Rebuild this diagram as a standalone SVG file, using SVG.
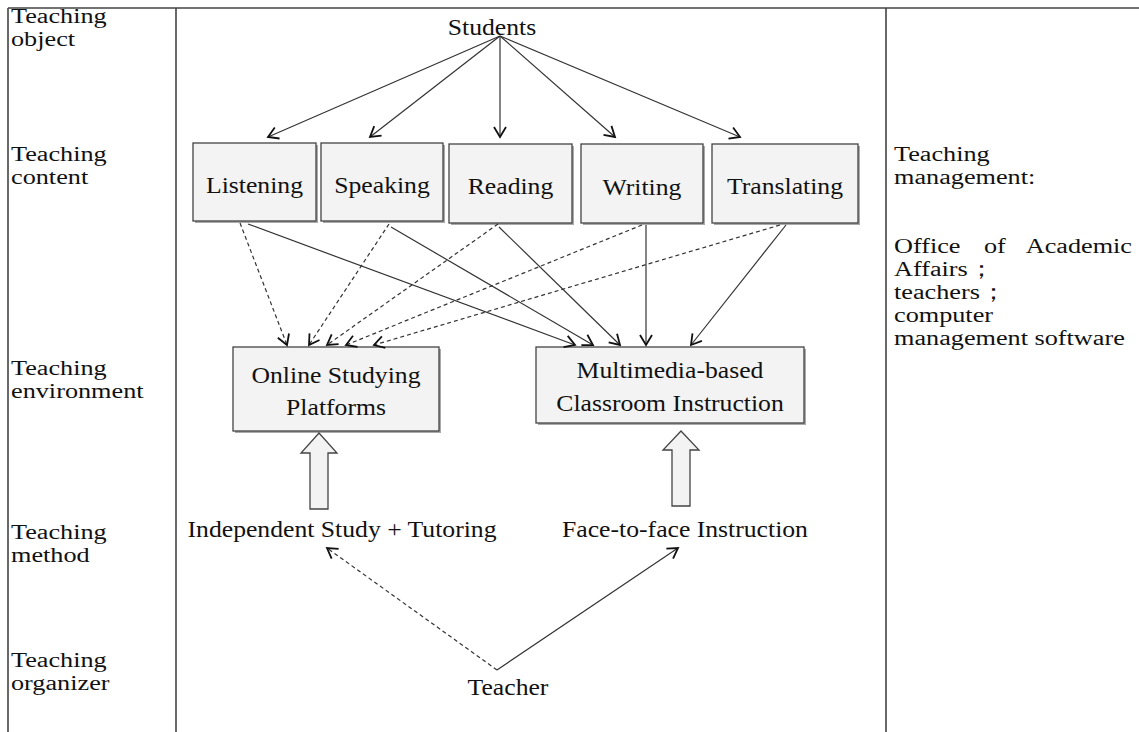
<svg xmlns="http://www.w3.org/2000/svg" width="1139" height="732" viewBox="0 0 1139 732">
<style>
.t{font-family:"Liberation Serif","Times New Roman",serif;font-size:20.5px;fill:#111}
.tm{font-family:"Liberation Serif","Times New Roman",serif;font-size:24px;fill:#111;text-anchor:middle}
.grid{stroke:#444;stroke-width:1.6;fill:none}
.box{fill:#f3f3f3;stroke:#444;stroke-width:1.3}
.sh{fill:#aaa}
.c{stroke:#333;stroke-width:1.2;fill:none;marker-end:url(#ah)}
.d{stroke:#333;stroke-width:1.2;fill:none;stroke-dasharray:4 3;marker-end:url(#ah)}
.blk{fill:#f3f3f3;stroke:#444;stroke-width:1.3}
</style>
<defs>
<marker id="ah" markerUnits="userSpaceOnUse" markerWidth="14" markerHeight="14" refX="11" refY="7" orient="auto">
<path d="M1,1 L11,7 L1,13" fill="none" stroke="#111" stroke-width="1.8"/>
</marker>
</defs>
<rect width="1139" height="732" fill="#fff"/>
<g id="table">
<path class="grid" d="M8,8 H1139 M8,8 V732 M176,8 V732 M886,8 V732"/>
</g>
<g id="left-labels">
<text class="t" transform="translate(11,23) scale(1.28,1)"><tspan x="0">Teaching</tspan><tspan x="0" dy="23">object</tspan></text>
<text class="t" transform="translate(11,161) scale(1.28,1)"><tspan x="0">Teaching</tspan><tspan x="0" dy="23">content</tspan></text>
<text class="t" transform="translate(11,375) scale(1.28,1)"><tspan x="0">Teaching</tspan><tspan x="0" dy="23">environment</tspan></text>
<text class="t" transform="translate(11,539) scale(1.28,1)"><tspan x="0">Teaching</tspan><tspan x="0" dy="23">method</tspan></text>
<text class="t" transform="translate(11,667) scale(1.28,1)"><tspan x="0">Teaching</tspan><tspan x="0" dy="23">organizer</tspan></text>
</g>
<g id="right-labels">
<text class="t" transform="translate(894,161) scale(1.28,1)"><tspan x="0">Teaching</tspan><tspan x="0" dy="23">management:</tspan></text>
<text class="t" transform="translate(894,253) scale(1.28,1)">Office</text>
<text class="t" transform="translate(984,253) scale(1.28,1)">of</text>
<text class="t" transform="translate(1132,253) scale(1.28,1)" text-anchor="end">Academic</text>
<text class="t" transform="translate(894,276) scale(1.28,1)"><tspan x="0">Affairs；</tspan><tspan x="0" dy="23">teachers；</tspan><tspan x="0" dy="23">computer</tspan><tspan x="0" dy="23">management software</tspan></text>
</g>
<g id="students"><text class="tm" transform="translate(492,35) scale(1.07,1)">Students</text></g>
<g id="listening"><rect class="sh" x="195" y="145" width="123" height="78"/><rect class="box" x="193" y="143" width="123" height="78"/><text class="tm" transform="translate(254.5,193) scale(1.07,1)">Listening</text></g>
<g id="speaking"><rect class="sh" x="323" y="145" width="122" height="78"/><rect class="box" x="321" y="143" width="122" height="78"/><text class="tm" transform="translate(382,193) scale(1.07,1)">Speaking</text></g>
<g id="reading"><rect class="sh" x="451" y="146" width="123" height="79"/><rect class="box" x="449" y="144" width="123" height="79"/><text class="tm" transform="translate(510.5,194) scale(1.07,1)">Reading</text></g>
<g id="writing"><rect class="sh" x="583" y="146" width="122" height="79"/><rect class="box" x="581" y="144" width="122" height="79"/><text class="tm" transform="translate(642,195) scale(1.07,1)">Writing</text></g>
<g id="translating"><rect class="sh" x="714" y="146" width="146" height="79"/><rect class="box" x="712" y="144" width="146" height="79"/><text class="tm" transform="translate(785,194) scale(1.07,1)">Translating</text></g>
<g id="online"><rect class="sh" x="235" y="349" width="206" height="84"/><rect class="box" x="233" y="347" width="206" height="84"/><text class="tm" transform="translate(336,383) scale(1.07,1)">Online Studying</text><text class="tm" transform="translate(336,415) scale(1.07,1)">Platforms</text></g>
<g id="multimedia"><rect class="sh" x="538" y="349" width="268" height="76"/><rect class="box" x="536" y="347" width="268" height="76"/><text class="tm" transform="translate(670,378) scale(1.07,1)">Multimedia-based</text><text class="tm" transform="translate(670,411) scale(1.07,1)">Classroom Instruction</text></g>
<g id="independent"><text class="tm" transform="translate(342,537) scale(1.07,1)">Independent Study + Tutoring</text></g>
<g id="face"><text class="tm" transform="translate(685,537) scale(1.07,1)">Face-to-face Instruction</text></g>
<g id="teacher"><text class="tm" transform="translate(508,695) scale(1.07,1)">Teacher</text></g>
<g id="connectors">
<path class="c" d="M500,36 L268,137"/>
<path class="c" d="M500,36 L370,137"/>
<path class="c" d="M500,36 L500,137"/>
<path class="c" d="M500,36 L615,137"/>
<path class="c" d="M500,36 L740,137"/>
<path class="d" d="M240,223 L287,345"/>
<path class="d" d="M389,224 L309,345"/>
<path class="d" d="M498,224 L327,345"/>
<path class="d" d="M642,225 L346,345"/>
<path class="d" d="M780,225 L374,345"/>
<path class="c" d="M248,224 L575,345"/>
<path class="c" d="M391,227 L593,345"/>
<path class="c" d="M499,227 L620,345"/>
<path class="c" d="M646,225 L646,345"/>
<path class="c" d="M786,225 L691,345"/>
<path class="d" d="M497,670 L327,548"/>
<path class="c" d="M497,670 L678,548"/>
<polygon class="blk" points="319,433 337,453 328,453 328,509 310,509 310,453 301,453"/>
<polygon class="blk" points="681,431 699,450 690,450 690,506 672,506 672,450 663,450"/>
</g>
</svg>
